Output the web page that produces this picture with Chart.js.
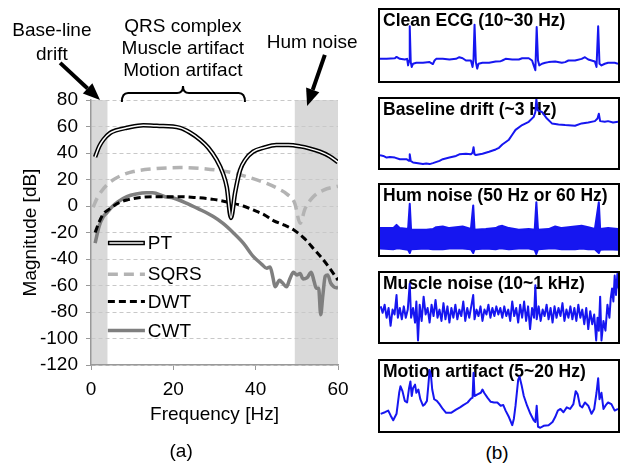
<!DOCTYPE html>
<html>
<head>
<meta charset="utf-8">
<script src="https://cdn.jsdelivr.net/npm/chart.js@4"></script>
<style>
  body { margin: 0; background: #fff; }
  #wrap { position: relative; width: 623px; height: 463px; overflow: hidden; font-family: "Liberation Sans", Arial, sans-serif; color: #000; }
  #spectrum { position: absolute; left: 0; top: 0; }
  .box { position: absolute; left: 378px; width: 242px; border: 2px solid #000; box-sizing: border-box; background: #fff; }
  .box canvas { display: block; }
  #lblB { position: absolute; left: 477px; top: 442px; width: 40px; text-align: center; font-size: 19px; color: #000; }
</style>
</head>
<body>
<div id="wrap">
  <canvas id="spectrum" width="370" height="463"></canvas>
  <div class="box" style="top:8px;height:75px"><canvas id="p1" width="238" height="71"></canvas></div>
  <div class="box" style="top:97px;height:73px"><canvas id="p2" width="238" height="69"></canvas></div>
  <div class="box" style="top:183px;height:74px"><canvas id="p3" width="238" height="70"></canvas></div>
  <div class="box" style="top:271px;height:73px"><canvas id="p4" width="238" height="69"></canvas></div>
  <div class="box" style="top:359px;height:74px"><canvas id="p5" width="238" height="70"></canvas></div>
  <div id="lblB">(b)</div>
</div>
<script>
// (a) magnitude responses
const ptHz = [1, 2, 3, 4.6, 6, 8.7, 12.7, 16, 21.6, 24, 26.5, 28.5, 30.5, 32, 33, 34, 35, 36.2, 37.5, 39.4, 42, 45, 48, 50.8, 53, 55.6, 58, 60];
const ptDb = [37, 45, 50, 55, 57, 59, 61, 60.5, 59, 55.5, 50, 44, 35, 25, 14, -9, 10, 27, 35, 41, 44, 46, 46, 45, 43.5, 41, 37.5, 33];

const sqrsHz = [0.5, 1.5, 2.5, 4.6, 7, 10.3, 15, 21.6, 28, 34.5, 39, 42.7, 45.5, 47.6, 49.5, 50.8, 52, 54, 56.5, 60];
const sqrsDb = [-1, 6, 11, 18, 22.5, 26, 28, 29, 28, 25, 21, 17, 13, 9, 2, -13, -2, 7, 12, 15];

const dwtHz = [1, 2, 3, 4.6, 6.5, 8.7, 12, 15, 21.6, 25, 29.7, 34.5, 37, 39.4, 42, 44.3, 47, 49.2, 52, 54, 56, 58, 60];
const dwtDb = [-20, -12, -6, -2, 2, 4.5, 6.5, 7, 7, 6.5, 5, 2, 0, -3, -6.5, -11, -14.5, -18, -25, -32, -39, -47, -56];

const cwtHz = [1, 2, 3, 3.9, 5, 6.5, 8.7, 11, 13.5, 15, 18, 20, 23.3, 26, 29.7, 32, 34.5, 37, 39.4, 41.5,
  42.7, 43.5, 44.2, 44.7, 45.8, 46.5, 47.5, 48.3, 49.2, 50, 50.8, 51.5, 52.5, 53.5, 54.2, 54.7, 55.3, 55.8, 56.3, 56.9,
  57.5, 58.2, 59, 60];
const cwtDb = [-28, -15, -8, -5, -1, 3, 7, 9, 10, 10, 7, 6, 2, -2, -8, -13, -20, -28, -38, -44,
  -47, -46, -54, -61, -56, -58, -61, -55, -50, -52, -51, -55, -54, -50, -57, -62, -62, -82, -68, -53,
  -52, -58, -61, -62];

const magTicks = [80, 60, 40, 20, 0, -20, -40, -60, -80, -100, -120];
const freqTicks = [0, 20, 40, 60];
const bandDrift = [0, 4];
const bandHum = [49.5, 60];
const bandTop = 80;

// (b) example signals, sample index 0..720, amplitude from box floor
const cleanT = [0, 20, 45, 50, 60, 75, 82, 85, 88, 90, 93, 96, 100, 110, 130, 150, 160, 165, 170, 190,
  210, 230, 240, 250, 260, 275, 280, 283, 286, 290, 294, 298, 310, 330, 350, 365, 370, 380, 400, 420,
  430, 450, 460, 465, 470, 474, 478, 482, 490, 500, 510, 530, 550, 560, 570, 590, 610, 620, 630, 650,
  655, 660, 664, 670, 680, 690, 710, 720];
const cleanV = [68, 68, 70, 74, 68, 66, 68, 48, 63, 168, 58, 43, 53, 56, 56, 58, 52, 63, 68, 68,
  66, 68, 73, 70, 63, 63, 43, 68, 173, 58, 38, 53, 56, 56, 60, 61, 63, 68, 66, 66,
  70, 70, 63, 48, 33, 166, 63, 48, 53, 56, 58, 60, 56, 58, 63, 63, 68, 73, 66, 60,
  43, 168, 53, 48, 53, 56, 56, 53];

const driftT = [0, 10, 20, 30, 45, 60, 80, 88, 90, 93, 100, 130, 140, 150, 160, 180, 190, 210, 230, 240,
  260, 275, 280, 283, 286, 290, 310, 330, 350, 360, 370, 390, 400, 410, 430, 450, 465, 470, 473, 477,
  490, 505, 520, 540, 560, 590, 610, 630, 650, 658, 662, 666, 680, 690, 705, 720];
const driftV = [39, 37, 32, 34, 32, 27, 27, 22, 42, 22, 17, 12, 14, 12, 15, 22, 27, 32, 37, 42,
  44, 42, 47, 64, 42, 40, 44, 50, 57, 62, 72, 87, 102, 117, 132, 142, 157, 172, 212, 177,
  172, 152, 137, 134, 132, 130, 137, 140, 144, 152, 167, 144, 142, 144, 140, 142];

const humT = [0, 40, 50, 60, 85, 90, 94, 140, 160, 170, 190, 210, 250, 275, 282, 286, 320, 350, 360, 370,
  390, 420, 450, 468, 473, 478, 510, 530, 550, 590, 610, 630, 650, 662, 666, 690, 720];
const humUpper = [83, 83, 93, 83, 80, 158, 78, 78, 80, 86, 88, 83, 88, 80, 153, 78, 80, 83, 88, 90,
  83, 78, 80, 78, 163, 78, 80, 88, 83, 88, 90, 86, 80, 163, 80, 83, 80];
const humLower = [20, 18, 20, 20, 16, 6, 18, 20, 18, 18, 18, 20, 20, 18, 6, 18, 20, 18, 20, 20,
  18, 20, 20, 16, 3, 18, 20, 20, 18, 18, 20, 18, 18, 6, 16, 18, 16];

const muscleT = [2, 8, 14, 20, 26, 32, 38, 44, 50, 54, 60, 66, 72, 78, 84, 90, 94, 100, 106, 110,
  115, 120, 126, 132, 138, 144, 150, 156, 162, 168, 174, 180, 186, 192, 198, 204, 210, 216, 222, 228,
  234, 240, 246, 252, 258, 264, 270, 276, 282, 286, 292, 298, 304, 310, 316, 322, 328, 334, 340, 346,
  352, 358, 364, 370, 376, 382, 388, 394, 400, 406, 412, 418, 424, 430, 436, 442, 448, 454, 460, 466,
  470, 474, 480, 486, 492, 498, 504, 510, 516, 522, 528, 534, 540, 546, 552, 558, 564, 570, 576, 582,
  588, 594, 600, 606, 612, 618, 624, 630, 636, 642, 648, 654, 658, 662, 666, 670, 676, 682, 688, 694,
  698, 702, 706, 710, 714, 718, 722];
const muscleV = [110, 90, 115, 75, 105, 50, 100, 85, 145, 75, 105, 70, 110, 75, 100, 180, 75, 105, 60, 125,
  5, 115, 65, 140, 85, 105, 60, 115, 80, 130, 75, 100, 65, 120, 70, 110, 60, 105, 75, 115,
  70, 100, 80, 125, 65, 105, 75, 110, 145, 70, 100, 80, 110, 65, 100, 85, 115, 75, 105, 80,
  110, 85, 105, 75, 110, 80, 100, 65, 125, 80, 105, 60, 115, 75, 125, 65, 110, 40, 105, 75,
  175, 70, 110, 65, 100, 80, 115, 70, 105, 60, 110, 75, 105, 80, 120, 65, 100, 75, 110, 70,
  105, 65, 115, 75, 100, 55, 105, 40, 95, 55, 85, 5, 75, 35, 140, 5, 65, 35, 115, 75,
  135, 165, 125, 205, 145, 210, 165];

const motionT = [2, 15, 25, 32, 40, 50, 58, 62, 68, 75, 82, 88, 92, 96, 100, 106, 110, 116, 122, 130,
  136, 142, 146, 150, 154, 158, 164, 172, 180, 190, 200, 215, 230, 242, 252, 265, 275, 280, 283, 286,
  295, 305, 310, 315, 325, 335, 345, 355, 365, 373, 380, 390, 400, 405, 410, 418, 422, 428, 435, 445,
  455, 465, 470, 474, 478, 485, 495, 510, 522, 530, 538, 546, 555, 565, 575, 585, 592, 598, 605, 612,
  620, 630, 640, 648, 655, 660, 664, 670, 676, 682, 690, 700, 710, 720];
const motionV = [53, 58, 63, 48, 33, 53, 118, 138, 123, 93, 88, 133, 153, 108, 133, 143, 118, 128, 98, 78,
  83, 93, 138, 188, 173, 128, 98, 93, 83, 68, 56, 56, 66, 73, 80, 88, 100, 103, 180, 108,
  113, 118, 128, 118, 103, 90, 88, 88, 78, 80, 63, 43, 18, 38, 78, 158, 168, 143, 108, 78,
  53, 33, 28, 78, 13, 10, 16, 18, 28, 43, 63, 68, 58, 73, 68, 83, 123, 113, 78, 73,
  88, 78, 53, 68, 118, 163, 98, 118, 68, 78, 88, 83, 63, 68];

const FONT = '"Liberation Sans", Arial, sans-serif';
Chart.defaults.font.family = FONT;
Chart.defaults.font.size = 19;
Chart.defaults.color = '#000';

const pts = (xs, ys) => xs.map((v, i) => ({ x: v, y: ys[i] }));

function arrow(ctx, x0, y0, x1, y1) {
  const a = Math.atan2(y1 - y0, x1 - x0), L = 17, W = 7;
  const bx = x1 - L * Math.cos(a), by = y1 - L * Math.sin(a);
  ctx.lineWidth = 4;
  ctx.beginPath(); ctx.moveTo(x0, y0); ctx.lineTo(bx, by); ctx.stroke();
  ctx.beginPath();
  ctx.moveTo(x1, y1);
  ctx.lineTo(bx + W * Math.sin(a), by - W * Math.cos(a));
  ctx.lineTo(bx - W * Math.sin(a), by + W * Math.cos(a));
  ctx.closePath(); ctx.fill();
}

const legendNames = ['PT', 'SQRS', 'DWT', 'CWT'];
const legendDb = [-28, -51.5, -72, -94];

const notes = {
  id: 'notes',
  beforeDraw(chart) {
    const { ctx, chartArea, scales: { x, y } } = chart;
    ctx.save();
    ctx.fillStyle = '#d9d9d9';
    [bandDrift, bandHum].forEach(b => {
      const x0 = x.getPixelForValue(b[0]), x1 = x.getPixelForValue(b[1]);
      const y0 = y.getPixelForValue(bandTop);
      ctx.fillRect(x0, y0, x1 - x0, chartArea.bottom - y0);
    });
    ctx.restore();
  },
  afterDraw(chart) {
    const { ctx, scales: { x, y } } = chart;
    const P = (hz, db) => [x.getPixelForValue(hz), y.getPixelForValue(db)];
    ctx.save();
    ctx.fillStyle = '#000';
    ctx.strokeStyle = '#000';
    ctx.font = '19px ' + FONT;
    ctx.textAlign = 'center';
    ctx.textBaseline = 'middle';
    const text = (s, hz, db) => { const p = P(hz, db); ctx.fillText(s, p[0], p[1]); };
    text('Base-line', -9.5, 132);
    text('drift', -9.5, 114.5);
    text('QRS complex', 22.3, 135);
    text('Muscle artifact', 22.3, 118.5);
    text('Motion artifact', 22.3, 102);
    text('Hum noise', 53.7, 123.5);
    text('(a)', 21.9, -185.5);

    arrow(ctx, ...P(-7.5, 108), ...P(2.2, 80));
    arrow(ctx, ...P(56.8, 114), ...P(52.5, 75.5));

    // brace over the QRS band
    ctx.lineWidth = 2;
    ctx.beginPath();
    ctx.moveTo(...P(7.5, 78.5));
    ctx.quadraticCurveTo(...P(7.5, 85.3), ...P(9, 85.3));
    ctx.lineTo(...P(20.9, 85.3));
    ctx.quadraticCurveTo(...P(22.35, 85.3), ...P(22.35, 90.6));
    ctx.quadraticCurveTo(...P(22.35, 85.3), ...P(23.8, 85.3));
    ctx.lineTo(...P(35.9, 85.3));
    ctx.quadraticCurveTo(...P(37.4, 85.3), ...P(37.4, 78.5));
    ctx.stroke();

    // legend inside the plot
    const ds = chart.data.datasets;
    const xa = x.getPixelForValue(4.1), xb = x.getPixelForValue(13.1), xt = x.getPixelForValue(13.8);
    const seg = (d, ya, inset) => {
      ctx.strokeStyle = d.borderColor; ctx.lineWidth = d.borderWidth;
      ctx.setLineDash(d.borderDash || []);
      ctx.beginPath(); ctx.moveTo(xa + inset, ya); ctx.lineTo(xb - inset, ya); ctx.stroke();
    };
    ctx.textAlign = 'left';
    legendNames.forEach((name, i) => {
      const ya = y.getPixelForValue(legendDb[i]);
      ds.filter(d => d.label === name).forEach(d => seg(d, ya, 0));
      ds.filter(d => d.label === name + ' core').forEach(d => seg(d, ya, 1.5));
      ctx.setLineDash([]);
      ctx.fillStyle = '#000';
      ctx.fillText(name, xt, ya + 1);
    });
    ctx.restore();
  }
};

const line = { pointRadius: 0, fill: false, cubicInterpolationMode: 'monotone', borderJoinStyle: 'round' };

new Chart(document.getElementById('spectrum'), {
  type: 'line',
  data: {
    datasets: [
      { ...line, label: 'PT core', data: pts(ptHz, ptDb), borderColor: '#fff', borderWidth: 1.5, order: 0 },
      { ...line, label: 'PT', data: pts(ptHz, ptDb), borderColor: '#000', borderWidth: 4.5, order: 1 },
      { ...line, label: 'DWT', data: pts(dwtHz, dwtDb), borderColor: '#000', borderWidth: 3, borderDash: [7, 4], order: 2 },
      { ...line, label: 'SQRS', data: pts(sqrsHz, sqrsDb), borderColor: '#b3b3b3', borderWidth: 3.5, borderDash: [10, 6], order: 3 },
      { ...line, label: 'CWT', data: pts(cwtHz, cwtDb), borderColor: '#7f7f7f', borderWidth: 3.5, order: 4 }
    ]
  },
  options: {
    responsive: false,
    animation: false,
    events: [],
    layout: { padding: { left: 0, top: 100, right: 32, bottom: 0 } },
    scales: {
      x: {
        type: 'linear', min: 0, max: 60,
        afterFit: s => { s.height = 98; },
        afterBuildTicks: s => { s.ticks = freqTicks.map(v => ({ value: v })); },
        grid: { drawOnChartArea: false, tickLength: 5, color: '#999' },
        border: { color: '#999', width: 1.5 },
        ticks: { padding: 8 },
        title: { display: true, text: 'Frequency [Hz]', padding: { bottom: 37 } }
      },
      y: {
        min: -120, max: 80,
        afterFit: s => { s.width = 91; },
        afterBuildTicks: s => { s.ticks = magTicks.map(v => ({ value: v })); },
        grid: { color: '#c8c8c8', tickColor: '#999', tickLength: 5 },
        border: { color: '#999', width: 1.5, dash: [4, 3] },
        ticks: { padding: 8 },
        title: { display: true, text: 'Magnitude [dB]', padding: { top: 19 } }
      }
    },
    plugins: { legend: { display: false }, tooltip: { enabled: false } }
  },
  plugins: [notes]
});

// (b) panels
const BLUE = '#1616f0';
const boxTitle = {
  id: 'boxTitle',
  beforeDatasetsDraw(chart, args, opts) {
    const ctx = chart.ctx;
    ctx.save();
    ctx.font = 'bold 17.5px ' + FONT;
    ctx.fillStyle = '#000';
    ctx.textBaseline = 'alphabetic';
    ctx.fillText(opts.text, 3, 16);
    ctx.restore();
  }
};

function panel(id, title, series, span, band) {
  new Chart(document.getElementById(id), {
    type: 'line',
    data: {
      datasets: series.map((s, i) => ({
        data: s, borderColor: BLUE, backgroundColor: BLUE, borderWidth: 2, pointRadius: 0,
        tension: 0, borderJoinStyle: 'round', fill: band && i === 0 ? '+1' : false
      }))
    },
    options: {
      responsive: false, animation: false, events: [],
      layout: { padding: 0 },
      scales: {
        x: { type: 'linear', display: false, min: 0, max: 720 },
        y: { display: false, min: 0, max: span }
      },
      plugins: { legend: { display: false }, tooltip: { enabled: false }, boxTitle: { text: title } }
    },
    plugins: [boxTitle]
  });
}

panel('p1', 'Clean ECG (10~30 Hz)', [pts(cleanT, cleanV)], 218);
panel('p2', 'Baseline drift (~3 Hz)', [pts(driftT, driftV)], 212);
panel('p3', 'Hum noise (50 Hz or 60 Hz)', [pts(humT, humUpper), pts(humT, humLower)], 216, true);
panel('p4', 'Muscle noise (10~1 kHz)', [pts(muscleT, muscleV)], 213);
panel('p5', 'Motion artifact (5~20 Hz)', [pts(motionT, motionV)], 216);
</script>
</body>
</html>
